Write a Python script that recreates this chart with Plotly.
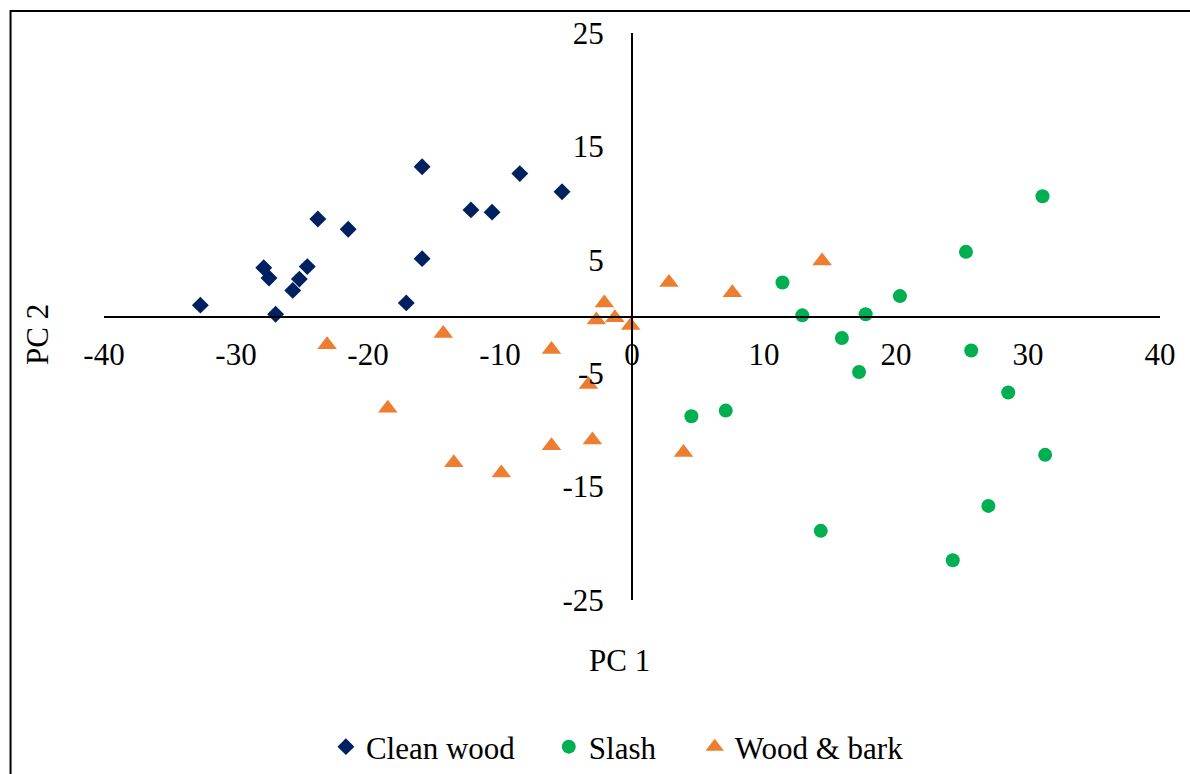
import plotly.graph_objects as go

# PCA scores (PC 1, PC 2) per feedstock group
clean_wood_pc1 = [-32.7, -27.9, -27.5, -27.0, -25.7, -25.2, -24.6, -23.8,
                  -21.5, -15.9, -15.9, -17.1, -12.2, -10.6, -8.5, -5.3]
clean_wood_pc2 = [1.0, 4.3, 3.4, 0.2, 2.3, 3.3, 4.4, 8.6,
                  7.7, 13.2, 5.1, 1.2, 9.4, 9.2, 12.6, 11.0]

slash_pc1 = [31.1, 25.3, 11.4, 20.3, 12.9, 17.7, 15.9, 25.7,
             17.2, 28.5, 31.3, 27.0, 14.3, 24.3, 4.5, 7.1]
slash_pc2 = [10.6, 5.7, 3.0, 1.8, 0.1, 0.2, -1.9, -3.0,
             -4.9, -6.7, -12.2, -16.7, -18.9, -21.5, -8.8, -8.3]

wood_bark_pc1 = [2.8, 7.6, 14.4, -2.1, -2.7, -1.3, -0.1, -14.3, -23.1,
                 -6.1, -3.3, -18.5, -3.0, -6.1, 3.9, -13.5, -9.9]
wood_bark_pc2 = [3.0, 2.1, 4.9, 1.2, -0.3, -0.1, -0.8, -1.5, -2.5,
                 -2.9, -6.0, -8.1, -10.9, -11.4, -12.0, -12.9, -13.8]

x_ticks = [-40, -30, -20, -10, 0, 10, 20, 30, 40]
y_ticks = [-25, -15, -5, 5, 15, 25]

FONT = "Liberation Serif, Times New Roman, serif"
W, H = 1190, 774
L, R, T, B = 104, 29.5, 33, 174
PW, PH = W - L - R, H - T - B


def px_x(px):
    return (px - L) / PW


def px_y(py):
    return (H - B - py) / PH


fig = go.Figure()
fig.add_trace(go.Scatter(
    x=clean_wood_pc1, y=clean_wood_pc2, mode="markers", name="Clean wood",
    marker=dict(symbol="diamond", size=13, color="#002060"), legend="legend"))
fig.add_trace(go.Scatter(
    x=slash_pc1, y=slash_pc2, mode="markers", name="Slash",
    marker=dict(symbol="circle", size=14, color="#00B050"), legend="legend2"))
fig.add_trace(go.Scatter(
    x=wood_bark_pc1, y=wood_bark_pc2, mode="markers", name="Wood & bark",
    marker=dict(symbol="triangle-up", size=17, color="#ED7D31"), legend="legend3"))

tick_font = dict(family=FONT, size=31, color="black")
axis_common = dict(showgrid=False, zeroline=False, showline=True,
                   linecolor="black", linewidth=2, ticks="",
                   tickfont=tick_font, anchor="free", position=0.5)

fig.update_layout(
    width=W, height=H,
    margin=dict(l=L, r=R, t=T, b=B, autoexpand=False),
    paper_bgcolor="white", plot_bgcolor="white",
    showlegend=True,
    xaxis=dict(range=[-40, 40], tickvals=x_ticks, ticktext=[str(v) for v in x_ticks],
               ticklabelstandoff=10, **axis_common),
    yaxis=dict(range=[-25, 25], tickvals=y_ticks, ticktext=[str(v) for v in y_ticks],
               ticklabelstandoff=21, **axis_common),
    font=dict(family=FONT, color="black"),
)

legend_font = dict(family=FONT, size=31, color="black")
for key, xpos in (("legend", 326), ("legend2", 549), ("legend3", 695)):
    fig.update_layout({key: dict(orientation="h", x=px_x(xpos), xanchor="left",
                                 y=px_y(747), yanchor="middle", font=legend_font,
                                 bgcolor="rgba(0,0,0,0)", borderwidth=0)})

# Axis titles
fig.add_annotation(text="PC 1", xref="paper", yref="paper",
                   x=px_x(619.5), y=px_y(660), xanchor="center", yanchor="middle",
                   showarrow=False, font=dict(family=FONT, size=31, color="black"))
fig.add_annotation(text="PC 2", xref="paper", yref="paper", textangle=-90,
                   x=px_x(37), y=px_y(335), xanchor="center", yanchor="middle",
                   showarrow=False, font=dict(family=FONT, size=31, color="black"))

# Chart frame
fig.add_shape(type="rect", xref="paper", yref="paper",
              x0=px_x(10.5), x1=px_x(W + 20), y0=px_y(H + 20), y1=px_y(11),
              line=dict(color="black", width=2), fillcolor="rgba(0,0,0,0)", layer="below")

fig.write_html("out.html")
